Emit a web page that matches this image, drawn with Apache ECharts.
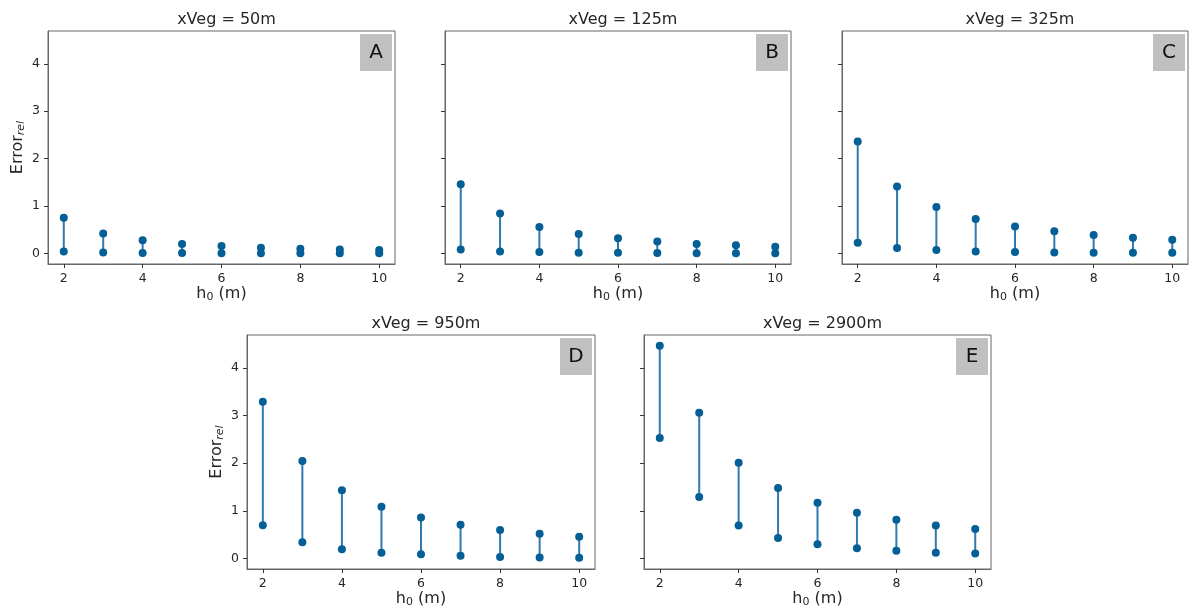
<!DOCTYPE html>
<html>
<head>
<meta charset="utf-8">
<script src="https://cdn.jsdelivr.net/npm/echarts@6/dist/echarts.min.js"></script>
<style>html,body{margin:0;padding:0;background:#fff}#c{width:1189px;height:612px}</style>
</head>
<body>
<div id="c"></div>
<script>
// ---- data ----
const h0 = [2, 3, 4, 5, 6, 7, 8, 9, 10];
const xTicks = [2, 4, 6, 8, 10];
const yTicks = [0, 1, 2, 3, 4];
const panelTitles = ['xVeg = 50m', 'xVeg = 125m', 'xVeg = 325m', 'xVeg = 950m', 'xVeg = 2900m'];
const panelLetters = ['A', 'B', 'C', 'D', 'E'];
const aLow  = [0.04, 0.02, 0.01, 0.008, 0.005, 0.004, 0.003, 0.002, 0.002];
const aHigh = [0.755, 0.42, 0.28, 0.20, 0.155, 0.12, 0.10, 0.085, 0.07];
const bLow  = [0.085, 0.04, 0.03, 0.015, 0.015, 0.006, 0.004, 0.003, 0.003];
const bHigh = [1.46, 0.84, 0.557, 0.41, 0.32, 0.25, 0.20, 0.17, 0.14];
const cLow  = [0.226, 0.113, 0.07, 0.04, 0.03, 0.02, 0.014, 0.012, 0.012];
const cHigh = [2.36, 1.41, 0.98, 0.727, 0.57, 0.47, 0.39, 0.33, 0.29];
const dLow  = [0.694, 0.34, 0.19, 0.12, 0.085, 0.057, 0.028, 0.02, 0.014];
const dHigh = [3.29, 2.046, 1.43, 1.083, 0.857, 0.708, 0.595, 0.517, 0.453];
const eLow  = [2.53, 1.29, 0.69, 0.43, 0.297, 0.21, 0.16, 0.12, 0.10];
const eHigh = [4.47, 3.06, 2.007, 1.477, 1.166, 0.96, 0.81, 0.69, 0.615];
const lows = [aLow, bLow, cLow, dLow, eLow];
const highs = [aHigh, bHigh, cHigh, dHigh, eHigh];

// ---- layout ----
const grids = [
  {left: 48, top: 31, width: 347, height: 233},
  {left: 445, top: 31, width: 346, height: 233},
  {left: 842, top: 31, width: 346, height: 233},
  {left: 247, top: 335, width: 348, height: 234},
  {left: 644, top: 335, width: 347, height: 234}
];
const showYLabels = [true, false, false, true, false];
const FONT = 'DejaVu Sans';
const dotColor = '#035f96';
const lineColor = '#2f7ab0';
const axisColor = '#666';
const textColor = '#262626';

const option = {
  animation: false,
  backgroundColor: '#fff',
  title: [], grid: [], xAxis: [], yAxis: [], series: [], graphic: []
};

grids.forEach((g, i) => {
  option.grid.push({left: g.left, top: g.top, width: g.width, height: g.height,
    show: true, borderColor: axisColor, borderWidth: 1, backgroundColor: 'transparent'});
  option.title.push({text: panelTitles[i], left: g.left + g.width / 2, top: g.top - 24,
    textAlign: 'center',
    textStyle: {fontFamily: FONT, fontSize: 16, fontWeight: 'normal', color: textColor}});
  option.xAxis.push({
    type: 'value', gridIndex: i, min: 1.6, max: 10.4,
    name: '{a|h}{s|0}{a| (m)}', nameLocation: 'middle', nameGap: 21,
    nameTextStyle: {rich: {
      a: {fontFamily: FONT, fontSize: 16, color: textColor},
      s: {fontFamily: FONT, fontSize: 11, color: textColor, padding: [7, 0, 0, 0]}
    }},
    splitLine: {show: false},
    axisLine: {show: true, onZero: false, lineStyle: {color: axisColor}},
    axisTick: {show: true, inside: false, length: 4, lineStyle: {color: '#333'}, customValues: xTicks},
    axisLabel: {show: true, margin: 8, fontFamily: FONT, fontSize: 12.5, color: textColor, customValues: xTicks}
  });
  option.yAxis.push({
    type: 'value', gridIndex: i, min: -0.2235, max: 4.6935,
    name: showYLabels[i] ? '{a|Error}{s|rel}' : '', nameLocation: 'middle', nameGap: 21, nameRotate: 90,
    nameTextStyle: {rich: {
      a: {fontFamily: FONT, fontSize: 16, color: textColor},
      s: {fontFamily: FONT, fontSize: 11, fontStyle: 'italic', color: textColor, padding: [7, 0, 0, 0]}
    }},
    splitLine: {show: false},
    axisLine: {show: true, onZero: false, lineStyle: {color: axisColor}},
    axisTick: {show: true, inside: false, length: 4, lineStyle: {color: '#333'}, customValues: yTicks},
    axisLabel: {show: showYLabels[i], margin: 8, fontFamily: FONT, fontSize: 12.5, color: textColor, customValues: yTicks}
  });
  const lo = lows[i], hi = highs[i];
  option.series.push({
    type: 'custom', xAxisIndex: i, yAxisIndex: i,
    data: h0.map((x, k) => [x, lo[k], hi[k]]),
    encode: {x: 0, y: [1, 2]},
    renderItem: (params, api) => {
      const p1 = api.coord([api.value(0), api.value(1)]);
      const p2 = api.coord([api.value(0), api.value(2)]);
      return {type: 'line', shape: {x1: p1[0], y1: p1[1], x2: p2[0], y2: p2[1]},
        style: {stroke: lineColor, lineWidth: 2}};
    },
    z: 2
  });
  option.series.push({
    type: 'scatter', xAxisIndex: i, yAxisIndex: i, symbolSize: 8,
    itemStyle: {color: dotColor, opacity: 1},
    data: h0.map((x, k) => [x, hi[k]]).concat(h0.map((x, k) => [x, lo[k]])),
    z: 3
  });
  option.graphic.push({
    type: 'group', left: g.left + g.width - 35, top: g.top + 3,
    children: [
      {type: 'rect', shape: {x: 0, y: 0, width: 32, height: 37}, style: {fill: '#c0c0c0'}},
      {type: 'text', x: 16, y: 19, style: {text: panelLetters[i], fontFamily: FONT, fontSize: 20,
        fill: '#111', align: 'center', verticalAlign: 'middle'}}
    ]
  });
});

const chart = echarts.init(document.getElementById('c'), null, {renderer: 'canvas'});
chart.setOption(option);
</script>
</body>
</html>
